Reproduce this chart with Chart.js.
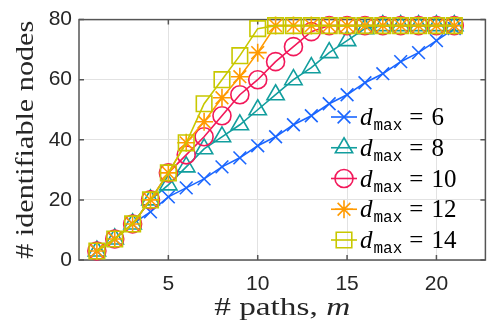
<!DOCTYPE html>
<html><head><meta charset="utf-8">
<script src="https://cdn.jsdelivr.net/npm/chart.js@4/dist/chart.umd.min.js"></script>
<style>html,body{margin:0;padding:0;background:#fff}#wrap{width:498px;height:327px;position:relative}</style>
</head><body><div id="wrap"><canvas id="c" width="498" height="327"></canvas></div>
<script>
// ---- data ----
const pathCounts = [1,2,3,4,5,6,7,8,9,10,11,12,13,14,15,16,17,18,19,20,21];
const dmaxValues = [6, 8, 10, 12, 14];
const nodesDmax6  = [3,7,12,16,21,24,27,31,34,38,41,45,48,52,55,59,62,66,69,73,77];
const nodesDmax8  = [3,7,12,20,25,31,37,41,45,50,55,60,64,69,73,77,78,78,78,78,78];
const nodesDmax10 = [3,7,12,20,29,35,41,48,55,60,66,71,76,78,78,78,78,78,78,78,78];
const nodesDmax12 = [3,7,12,20,29,39,46,54,61,69,78,78,78,78,78,78,78,78,78,78,78];
const nodesDmax14 = [3,7,12,20,29,39,52,60,68,77,78,78,78,78,78,78,78,78,78,78,78];
const xTickValues = [5, 10, 15, 20];
const yTickValues = [0, 20, 40, 60, 80];
const xTitleText = '# paths, ';
const xTitleVar = 'm';
const yTitleText = '# identifiable nodes';

// ---- styles ----
const series = [nodesDmax6, nodesDmax8, nodesDmax10, nodesDmax12, nodesDmax14];
const colors = ['#1a66ff', '#129e9e', '#f2185a', '#ff9a00', '#c8c800'];
const markers = ['crossRot', 'triangle', 'circle', 'star', 'rect'];
const radii = [9, 10, 9, 9, 11];
const AX = '#262626';

const datasets = series.map((vals, i) => ({
  label: 'd_max = ' + dmaxValues[i],
  data: pathCounts.map((x, j) => ({x: x, y: vals[j]})),
  borderColor: colors[i],
  backgroundColor: 'transparent',
  pointBackgroundColor: 'transparent',
  pointBorderColor: colors[i],
  pointStyle: markers[i],
  pointRadius: radii[i],
  pointBorderWidth: 1.6,
  borderWidth: 1.6,
  tension: 0,
  clip: false,
  order: 5 - i
}));

const frame = {
  id: 'frame',
  beforeDatasetsDraw(chart) {
    const {ctx, chartArea: a, scales: {x, y}} = chart;
    ctx.save();
    ctx.strokeStyle = '#555';
    ctx.lineWidth = 1.5;
    ctx.strokeRect(a.left, a.top, a.right - a.left, a.bottom - a.top);
    ctx.beginPath();
    xTickValues.forEach(v => {
      const px = x.getPixelForValue(v);
      ctx.moveTo(px, a.bottom); ctx.lineTo(px, a.bottom - 5);
      ctx.moveTo(px, a.top); ctx.lineTo(px, a.top + 5);
    });
    yTickValues.forEach(v => {
      const py = y.getPixelForValue(v);
      ctx.moveTo(a.left, py); ctx.lineTo(a.left + 5, py);
      ctx.moveTo(a.right, py); ctx.lineTo(a.right - 5, py);
    });
    ctx.stroke();
    ctx.restore();
  },
  afterDraw(chart) {
    const {ctx, chartArea: a} = chart;
    ctx.save();
    ctx.fillStyle = AX;
    ctx.textBaseline = 'alphabetic';
    // x title
    const f1 = '26px "Liberation Serif"', f2 = 'italic 26px "Liberation Serif"';
    ctx.font = f1; const w1 = ctx.measureText(xTitleText).width;
    ctx.font = f2; const w2 = ctx.measureText(xTitleVar).width;
    const targetX = 136, sx = targetX / (w1 + w2);
    const cx = (a.left + a.right) / 2;
    ctx.save();
    ctx.translate(cx - targetX / 2, 315);
    ctx.scale(sx, 1);
    ctx.font = f1; ctx.textAlign = 'left'; ctx.fillText(xTitleText, 0, 0);
    ctx.font = f2; ctx.fillText(xTitleVar, w1, 0);
    ctx.restore();
    // y title
    ctx.font = f1;
    const wy = ctx.measureText(yTitleText).width;
    const targetY = 238, sy = targetY / wy;
    ctx.save();
    ctx.translate(33, (a.top + a.bottom) / 2);
    ctx.rotate(-Math.PI / 2);
    ctx.scale(sy, 1);
    ctx.textAlign = 'center';
    ctx.fillText(yTitleText, 0, 0);
    ctx.restore();
    // legend
    const lx0 = 331, lx1 = 357, mx = 344, tx = 360;
    chart.data.datasets.forEach((ds, i) => {
      const yy = 117 + 30.75 * i;
      ctx.save();
      ctx.strokeStyle = ds.borderColor;
      ctx.lineWidth = 1.6;
      ctx.beginPath(); ctx.moveTo(lx0, yy); ctx.lineTo(lx1, yy); ctx.stroke();
      ctx.fillStyle = 'rgba(255,255,255,0)';
      Chart.helpers.drawPoint(ctx, {pointStyle: ds.pointStyle, radius: ds.pointRadius, borderWidth: 1.6, rotation: 0}, mx, yy);
      ctx.restore();
      const base = yy + 8;
      ctx.fillStyle = '#000';
      ctx.textAlign = 'left';
      let xx = tx;
      ctx.font = 'italic 25px "Liberation Serif"';
      ctx.fillText('d', xx, base); xx += ctx.measureText('d').width + 1;
      ctx.font = '16px "Liberation Mono"';
      ctx.fillText('max', xx, base + 5); xx += ctx.measureText('max').width + 7;
      ctx.font = '25px "Liberation Serif"';
      ctx.fillText('=', xx, base); xx += ctx.measureText('=').width + 8;
      ctx.fillText(String(dmaxValues[i]), xx, base);
    });
    ctx.restore();
  }
};

new Chart(document.getElementById('c'), {
  type: 'line',
  data: {datasets: datasets},
  options: {
    responsive: false,
    animation: false,
    devicePixelRatio: 1,
    layout: {padding: {top: 15, right: 1, left: 0, bottom: 0}},
    plugins: {legend: {display: false}, tooltip: {enabled: false}},
    scales: {
      x: {
        type: 'linear', min: 0, max: 22.74, position: 'bottom',
        afterBuildTicks: s => { s.ticks = xTickValues.map(v => ({value: v})); },
        afterFit: s => { s.height = 67; },
        grid: {color: '#e2e2e2', lineWidth: 1, drawTicks: false},
        border: {display: false},
        ticks: {font: {family: 'Liberation Sans', size: 21}, color: AX, padding: 12, maxRotation: 0, autoSkip: false}
      },
      y: {
        type: 'linear', min: 0, max: 80,
        afterBuildTicks: s => { s.ticks = yTickValues.map(v => ({value: v})); },
        afterFit: s => { s.width = 79; },
        grid: {color: '#e2e2e2', lineWidth: 1, drawTicks: false},
        border: {display: false},
        ticks: {font: {family: 'Liberation Sans', size: 21}, color: AX, padding: 7, autoSkip: false}
      }
    }
  },
  plugins: [frame]
});
</script>
</body></html>
